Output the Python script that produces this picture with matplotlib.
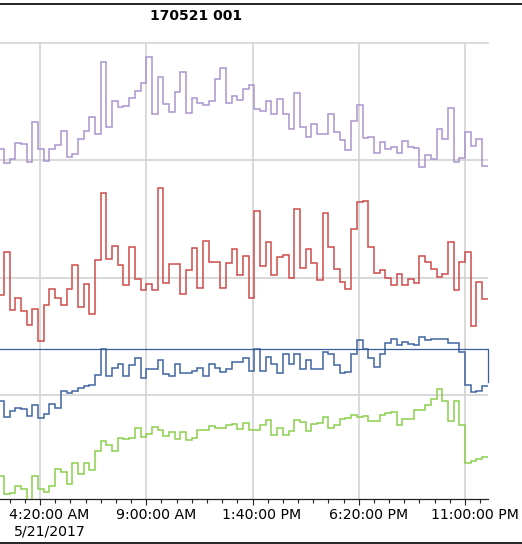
import numpy as np
import matplotlib
matplotlib.use("Agg")
import matplotlib.pyplot as plt
from matplotlib.lines import Line2D
from matplotlib.transforms import ScaledTranslation

# ---- data -------------------------------------------------------------
title = "170521 001"

# 15-minute logging interval, first sample at 2:30 AM, day ends at 24:00
first_minute = 150
interval = 15
day_end = 1440

ch1 = [63, 20, 33, 82, 79, 23, 144, 63, 28, 63, 74, 118, 38, 47, 94, 118, 159, 109,
       325, 130, 206, 189, 192, 217, 238, 260, 338, 167, 278, 197, 173, 233, 295, 170,
       217, 200, 194, 207, 272, 307, 200, 222, 210, 242, 256, 184, 177, 206, 167, 214,
       167, 123, 231, 130, 99, 139, 107, 107, 167, 114, 90, 60, 148, 194, 97, 100,
       50, 85, 64, 69, 50, 88, 68, 66, 8, 44, 33, 124, 94, 187, 23, 35, 115, 73, 93, 12]

ch2 = [146, 273, 100, 137, 96, 55, 104, 8, 116, 162, 137, 115, 164, 234, 109, 177, 88,
       250, 450, 252, 293, 234, 174, 290, 193, 160, 178, 161, 465, 180, 239, 237, 147,
       219, 285, 167, 308, 244, 244, 166, 240, 284, 204, 262, 136, 396, 233, 303, 205,
       260, 266, 195, 403, 226, 284, 242, 189, 390, 290, 222, 183, 162, 344, 423, 428,
       290, 211, 219, 195, 174, 208, 176, 192, 181, 263, 243, 222, 199, 209, 304, 159,
       243, 274, 52, 185, 134]

ch3 = [57, 8, 28, 37, 34, 13, 44, 7, 18, 48, 37, 88, 82, 88, 97, 103, 105, 134, 214,
       133, 157, 169, 133, 165, 185, 125, 152, 152, 179, 138, 133, 169, 141, 141, 148,
       157, 133, 167, 155, 145, 153, 175, 174, 187, 147, 212, 147, 188, 167, 141, 199,
       169, 198, 152, 180, 152, 152, 205, 197, 166, 141, 143, 199, 239, 213, 185, 160,
       198, 232, 242, 224, 235, 227, 226, 248, 240, 244, 243, 242, 232, 230, 203, 105,
       85, 88, 101]

ch3_limit = 212
ch3_limit_end = 113

ch4 = [113, 59, 62, 82, 73, 10, 112, 73, 64, 82, 132, 124, 88, 150, 117, 150, 130,
       188, 216, 205, 187, 227, 222, 226, 257, 229, 237, 260, 249, 231, 243, 222, 244,
       221, 227, 250, 250, 263, 256, 255, 266, 267, 252, 271, 250, 250, 265, 280, 236,
       255, 235, 246, 279, 274, 248, 268, 271, 288, 256, 265, 284, 286, 296, 289, 291,
       278, 278, 294, 302, 303, 265, 284, 282, 310, 310, 324, 343, 372, 338, 277, 336,
       264, 150, 158, 164, 168]

tick_minutes = [260, 540, 820, 1100, 1380]
tick_labels = ["4:20:00 AM\n5/21/2017", "9:00:00 AM", "1:40:00 PM",
               "6:20:00 PM", "11:00:00 PM"]

# ---- styling ------------------------------------------------------------
series = [
    (ch1, (-987, 381), "#a995cd"),
    (ch2, (-467, 901), "#cf4b4b"),
    (ch3, (-237, 1131), "#3f65a0"),
    (ch4, (43, 1411), "#8ccf4e"),
]
grid_color = "#d3d3d3"

plt.rcParams["font.family"] = ["DejaVu Sans"]

W, H = 522, 544
fig = plt.figure(figsize=(W / 100, H / 100), dpi=100)
ax = fig.add_axes([0, 45 / H, 487.8 / W, 456 / H])

ax.set_xlim(154.6, day_end)
ax.set_ylim(0, 1368)
ax.set_yticks([312, 664, 1016])
ax.tick_params(axis="y", length=0, labelleft=False)
ax.grid(True, which="major", color=grid_color, lw=1.2)
ax.set_axisbelow(True)

for side in ("left", "right"):
    ax.spines[side].set_visible(False)
ax.spines["top"].set_color(grid_color)
ax.spines["top"].set_linewidth(1.2)
ax.spines["bottom"].set_color("#222222")
ax.spines["bottom"].set_linewidth(0.9)

ax.set_xticks(tick_minutes)
ax.set_xticklabels(tick_labels, fontsize=10.2, multialignment="center")
minor = [m for m in range(180, day_end, 40) if m not in tick_minutes]
ax.set_xticks(minor, minor=True)
ax.tick_params(axis="x", which="major", length=4.4, width=0.8, color="#222222", pad=2.2)
ax.tick_params(axis="x", which="minor", length=3.0, width=0.8, color="#222222")
shift = ScaledTranslation(9.5 / 100, 0, fig.dpi_scale_trans)
for lab in ax.get_xticklabels():
    lab.set_transform(lab.get_transform() + shift)

times = first_minute + interval * np.arange(len(ch1))
t_ext = np.append(times, day_end)

for values, (lo, hi), color in series:
    sax = ax.twinx()
    sax.set_ylim(lo, hi)
    sax.axis("off")
    v = np.asarray(values, dtype=float)
    sax.plot(t_ext, np.append(v, v[-1]), drawstyle="steps-post",
             color=color, lw=1.1, solid_joinstyle="miter")
    if values is ch3:
        sax.plot([first_minute, day_end, day_end],
                 [ch3_limit, ch3_limit, ch3_limit_end],
                 color="#3a5f98", lw=0.9, clip_on=False)

fig.text(196.5 / W, 1 - 15.5 / H, title, ha="center", va="center",
         fontsize=10, fontweight="bold")

fig.add_artist(Line2D([0, 1], [1 - 3.5 / H] * 2, transform=fig.transFigure,
                      color="black", lw=1.2))
fig.add_artist(Line2D([0, 1], [1 - 542.5 / H] * 2, transform=fig.transFigure,
                      color="black", lw=1.2))

fig.savefig("out.png", dpi=100)
